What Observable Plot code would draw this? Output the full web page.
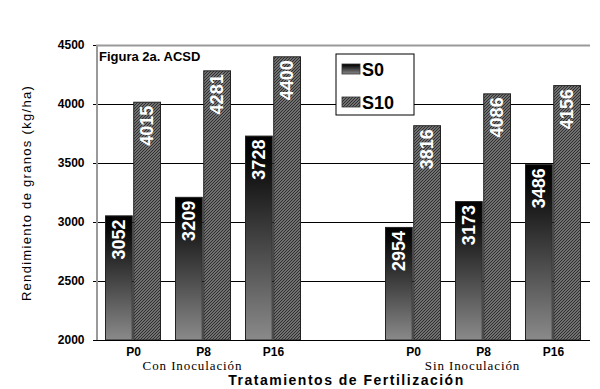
<!DOCTYPE html>
<html>
<head>
<meta charset="utf-8">
<script src="https://cdn.jsdelivr.net/npm/d3@7"></script>
<script src="https://cdn.jsdelivr.net/npm/@observablehq/plot@0.6"></script>
<style>
  html, body { margin: 0; padding: 0; background: #fff; }
</style>
</head>
<body>
<div id="chart"></div>
<script>
// ---- data ----
const slots = ["C-P0", "C-P8", "C-P16", "gap", "S-P0", "S-P8", "S-P16"];
const tickLabels = ["P0", "P8", "P16", "", "P0", "P8", "P16"];
const s0 = [3052, 3209, 3728, null, 2954, 3173, 3486];
const s10 = [4015, 4281, 4400, null, 3816, 4086, 4156];
const groupSlots = ["C-P8", "S-P8"];
const groupLabels = ["Con Inoculación", "Sin Inoculación"];
const yTicks = [2000, 2500, 3000, 3500, 4000, 4500];
const gridTicks = [2500, 3000, 3500, 4000];
const seriesNames = ["S0", "S10"];

const rows0 = slots.map((s, i) => ({slot: s, value: s0[i]})).filter(d => d.value != null);
const rows10 = slots.map((s, i) => ({slot: s, value: s10[i]})).filter(d => d.value != null);
const groups = groupSlots.map((s, i) => ({slot: s, label: groupLabels[i]}));

const W = 600, H = 389;
const mL = 96, mR = 10, mT = 45, mB = 49;
const pInner = 0.2, pOuter = 0.1;
const step = (W - mL - mR) / (slots.length - pInner + 2 * pOuter);
const bw = step * (1 - pInner);

const font = "'Liberation Sans', Arial, sans-serif";

function decorations(index, scales, values, dims) {
  const g = d3.create("svg:g");
  const defs = g.append("defs");
  const grad = defs.append("linearGradient").attr("id", "gradS0")
    .attr("x1", 0).attr("y1", 0).attr("x2", 0).attr("y2", 1);
  grad.append("stop").attr("offset", "0").attr("stop-color", "#000");
  grad.append("stop").attr("offset", "0.12").attr("stop-color", "#0a0a0a");
  grad.append("stop").attr("offset", "1").attr("stop-color", "#8a8a8a");
  const pat = defs.append("pattern").attr("id", "hatchS10")
    .attr("patternUnits", "userSpaceOnUse").attr("width", 3).attr("height", 3);
  pat.append("rect").attr("width", 3).attr("height", 3).attr("fill", "#8c8c8c");
  pat.append("path").attr("d", "M-1,1 L1,-1 M0,3 L3,0 M2,4 L4,2")
    .attr("stroke", "#2a2a2a").attr("stroke-width", 1.1);
  return g.node();
}

function frameLines(index, scales, values, dims) {
  const g = d3.create("svg:g");
  const x0 = dims.marginLeft;
  const y0 = dims.marginTop;
  const y1 = dims.height - dims.marginBottom;
  g.append("line").attr("x1", x0 + 1).attr("x2", x0 + 1).attr("y1", y0).attr("y2", y1)
    .attr("stroke", "#9a9a9a").attr("stroke-width", 2);
  return g.node();
}

function legend(index, scales, values, dims) {
  const g = d3.create("svg:g").attr("text-anchor", "start");
  const bx = 336, by = 54, bwid = 78, bh = 61;
  g.append("rect").attr("x", bx).attr("y", by).attr("width", bwid).attr("height", bh)
    .attr("fill", "#fff").attr("stroke", "#000").attr("stroke-width", 1);
  const fills = ["url(#gradS0)", "url(#hatchS10)"];
  const ys = [64, 97];
  seriesNames.forEach((name, i) => {
    g.append("rect").attr("x", bx + 6).attr("y", ys[i]).attr("width", 18).attr("height", 10)
      .attr("fill", fills[i]).attr("stroke", "#333").attr("stroke-width", 0.8);
    g.append("text").attr("x", bx + 26).attr("y", ys[i] + 12)
      .attr("text-anchor", "start")
      .attr("font-family", font).attr("font-weight", "bold").attr("font-size", 18)
      .attr("fill", "#000").text(name);
  });
  g.append("text").attr("x", dims.marginLeft + 3).attr("y", 61)
    .attr("text-anchor", "start")
    .attr("font-family", font).attr("font-weight", "bold").attr("font-size", 13)
    .attr("fill", "#000").text("Figura 2a. ACSD");
  return g.node();
}

const chart = Plot.plot({
  width: W,
  height: H,
  marginLeft: mL,
  marginRight: mR,
  marginTop: mT,
  marginBottom: mB,
  style: {fontFamily: font, background: "#fff", color: "#000", overflow: "visible"},
  x: {domain: slots, paddingInner: pInner, paddingOuter: pOuter, axis: null},
  y: {domain: [2000, 4500], axis: null},
  marks: [
    decorations,
    Plot.ruleY(gridTicks, {stroke: "#000", strokeWidth: 1}),
    Plot.ruleY([4500], {stroke: "#9a9a9a", strokeWidth: 2}),
    frameLines,
    Plot.barY(rows0, {x: "slot", y1: 2000, y2: "value", fill: "url(#gradS0)",
      stroke: "#222", strokeWidth: 1, insetLeft: 0.5, insetRight: bw / 2 + 0.5}),
    Plot.barY(rows10, {x: "slot", y1: 2000, y2: "value", fill: "url(#hatchS10)",
      stroke: "#222", strokeWidth: 1, insetLeft: bw / 2 + 0.5, insetRight: 0.5}),
    Plot.ruleY([2000], {stroke: "#000", strokeWidth: 1.2}),
    Plot.text(rows0, {x: "slot", y: "value", text: d => String(d.value), dx: -bw / 4, dy: 3,
      rotate: -90, textAnchor: "end", fill: "#fff", fontSize: 18, fontWeight: "bold"}),
    Plot.text(rows10, {x: "slot", y: "value", text: d => String(d.value), dx: bw / 4, dy: 3,
      rotate: -90, textAnchor: "end", fill: "#fff", fontSize: 18, fontWeight: "bold"}),
    Plot.axisY({ticks: yTicks, tickSize: 3, tickPadding: 9, fontSize: 12, fontWeight: "bold",
      label: null, tickFormat: d => String(d)}),
    Plot.axisX({tickSize: 0, tickPadding: 7, fontSize: 12, fontWeight: "bold", label: null,
      tickFormat: d => tickLabels[slots.indexOf(d)]}),
    Plot.text(groups, {x: "slot", text: "label", frameAnchor: "bottom", dy: 29.5, dx: -11,
      fontFamily: "'Liberation Serif', 'Times New Roman', serif", fontSize: 13, fill: "#000"}),
    Plot.text(["Tratamientos de Fertilización"], {frameAnchor: "bottom", dy: 44, dx: 3,
      textAnchor: "middle", fontSize: 14, fontWeight: "bold", fill: "#000"}),
    Plot.text(["Rendimiento de granos (kg/ha)"], {frameAnchor: "left", dx: -70, rotate: -90,
      textAnchor: "middle", fontSize: 13, fill: "#000"}),
    legend
  ]
});

d3.select(chart).selectAll("text").each(function() {
  const t = this.textContent;
  if (t === "Tratamientos de Fertilización") d3.select(this).attr("letter-spacing", 1.5);
  if (t === "Rendimiento de granos (kg/ha)") d3.select(this).attr("letter-spacing", 1.3);
  if (groupLabels.includes(t)) d3.select(this).attr("letter-spacing", 0.9);
});

document.getElementById("chart").appendChild(chart);
</script>
</body>
</html>
